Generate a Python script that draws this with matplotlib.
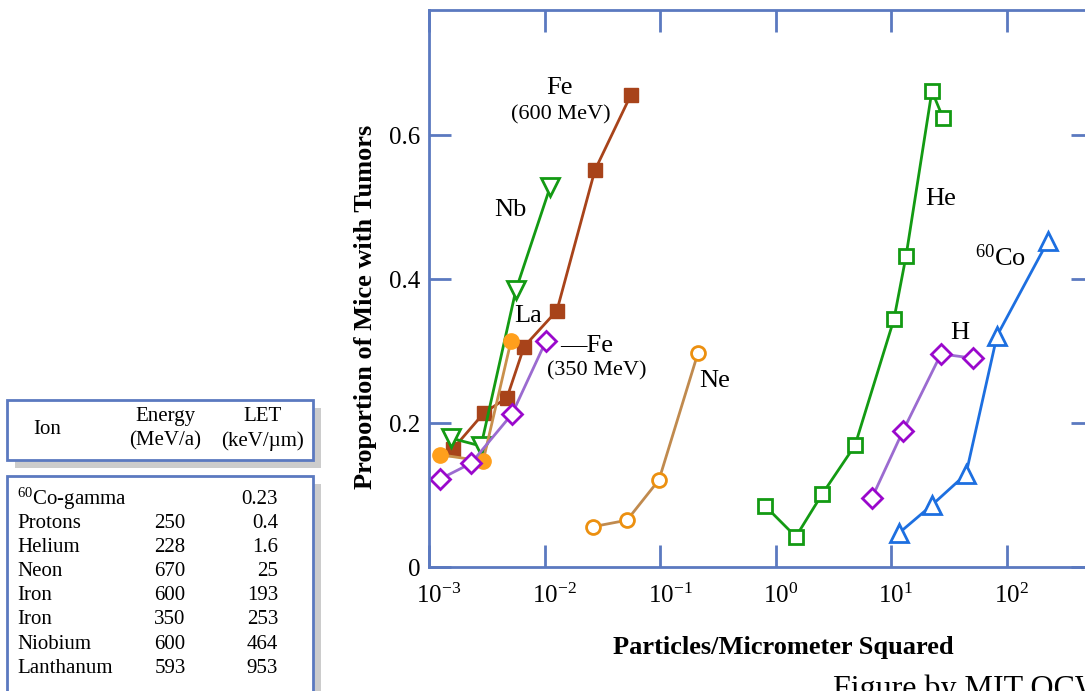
import matplotlib
matplotlib.use("Agg")
import matplotlib.pyplot as plt
import matplotlib.transforms as mtransforms
from matplotlib.patches import Rectangle

plt.rcParams["font.family"] = ["Liberation Serif", "DejaVu Serif"]
plt.rcParams["mathtext.fontset"] = "custom"
plt.rcParams["mathtext.rm"] = "Liberation Serif"
plt.rcParams["mathtext.it"] = "Liberation Serif:italic"
plt.rcParams["mathtext.bf"] = "Liberation Serif:bold"

# data
fe600_x = [1.61e-3, 2.99e-3, 4.73e-3, 6.65e-3, 1.28e-2, 2.73e-2, 5.61e-2]
fe600_y = [0.164, 0.214, 0.235, 0.306, 0.356, 0.551, 0.656]
nb_x = [1.55e-3, 2.82e-3, 5.66e-3, 1.12e-2]
nb_y = [0.179, 0.168, 0.385, 0.528]
la_x = [1.24e-3, 2.94e-3, 5.13e-3]
la_y = [0.156, 0.147, 0.314]
fe350_x = [1.24e-3, 2.31e-3, 5.24e-3, 1.03e-2]
fe350_y = [0.122, 0.144, 0.2125, 0.314]
ne_x = [2.63e-2, 5.18e-2, 9.8e-2, 0.213]
ne_y = [0.056, 0.065, 0.121, 0.297]
he_x = [0.811, 1.50, 2.53, 4.88, 10.6, 13.5, 22.6, 28.2]
he_y = [0.085, 0.042, 0.101, 0.169, 0.344, 0.432, 0.661, 0.624]
h_x = [6.84, 12.7, 27.1, 51.3]
h_y = [0.096, 0.189, 0.296, 0.290]
co_x = [11.7, 22.6, 44.6, 82.7, 229]
co_y = [0.047, 0.086, 0.129, 0.321, 0.453]

x_ticks = [1e-3, 1e-2, 1e-1, 1e0, 1e1, 1e2]
x_ticklabels = ["10$^{-3}$", "10$^{-2}$", "10$^{-1}$", "10$^{0}$", "10$^{1}$", "10$^{2}$"]
y_ticks = [0, 0.2, 0.4, 0.6]
y_ticklabels = ["0", "0.2", "0.4", "0.6"]

table_ions = ["$^{60}$Co-gamma", "Protons", "Helium", "Neon", "Iron", "Iron", "Niobium", "Lanthanum"]
table_energy = ["", "250", "228", "670", "600", "350", "600", "593"]
table_let = ["0.23", "0.4", "1.6", "25", "193", "253", "464", "953"]

W, H = 1085, 691
fig = plt.figure(figsize=(W / 100, H / 100), dpi=100)
ax = fig.add_axes([429 / W, 1 - 567 / H, (1093 - 429) / W, (567 - 10) / H])

spine_col = "#5b79c0"
green = "#139a13"

ax.plot(fe600_x, fe600_y, color="#a8431a", lw=2, marker="s", ms=10,
        mfc="#a8431a", mec="#a8431a")
ax.plot(nb_x, nb_y, color=green, lw=2, marker="v", ms=13,
        mfc="white", mec=green, mew=2)
ax.plot(la_x, la_y, color="#c9904c", lw=2, marker="o", ms=11,
        mfc="#ff9f1c", mec="#ff9f1c")
ax.plot(fe350_x, fe350_y, color="#9b6bd0", lw=2, marker="D", ms=10,
        mfc="white", mec="#9a08cc", mew=2)
ax.plot(ne_x, ne_y, color="#c08a4e", lw=2, marker="o", ms=10,
        mfc="white", mec="#ec9010", mew=2)
ax.plot(he_x, he_y, color=green, lw=2, marker="s", ms=10,
        mfc="white", mec=green, mew=2)
ax.plot(h_x, h_y, color="#9b6bd0", lw=2, marker="D", ms=10,
        mfc="white", mec="#9a08cc", mew=2)
ax.plot(co_x, co_y, color="#1d6fe0", lw=2, marker="^", ms=13,
        mfc="white", mec="#1d6fe0", mew=2)

ax.set_xscale("log")
ax.set_xlim(1e-3, 10 ** ((1093 - 429) / 115.5 - 3))
ax.set_ylim(0, (567 - 10) / 720)
ax.set_xticks(x_ticks)
ax.set_xticklabels(x_ticklabels)
ax.xaxis.set_minor_locator(matplotlib.ticker.NullLocator())
ax.set_yticks(y_ticks)
ax.set_yticklabels(y_ticklabels)
ax.tick_params(direction="in", length=16, width=2, color=spine_col,
               top=True, right=True, labelsize=18)
ax.tick_params(axis="x", pad=12)
ax.tick_params(axis="y", pad=6)
for s in ax.spines.values():
    s.set_color(spine_col)
    s.set_linewidth(2)

# centre the "10" of each label on its tick, exponent hangs to the right
shift = mtransforms.ScaledTranslation(-9 / 72, 0, fig.dpi_scale_trans)
for t in ax.get_xticklabels():
    t.set_ha("left")
    t.set_transform(t.get_transform() + shift)

ax.set_xlabel("Particles/Micrometer Squared", fontsize=19, fontweight="bold", labelpad=20)
ax.set_ylabel("Proportion of Mice with Tumors", fontsize=19, fontweight="bold", labelpad=9)
ax.xaxis.label.set_x((783 - 429) / 664)
ax.yaxis.label.set_y((567 - 307) / 557)


def lab(px, py, s, size=19, ha="center"):
    fig.text(px / W, 1 - py / H, s, fontsize=size, ha=ha, va="center")


lab(559, 88, "Fe")
lab(561, 115, "(600 MeV)", size=16)
lab(510, 210, "Nb")
lab(528, 316, "La")
lab(560, 346, "\u2014Fe", ha="left")
lab(597, 371, "(350 MeV)", size=16)
lab(715, 381, "Ne")
lab(941, 199, "He")
lab(1001, 258, "$^{60}$Co")
lab(960, 333, "H")


# table boxes with shadows
def box(x0, y0, x1, y1):
    fig.add_artist(Rectangle(((x0 + 8) / W, 1 - (y1 + 8) / H), (x1 - x0) / W, (y1 - y0) / H,
                             transform=fig.transFigure, facecolor="#cccccc", edgecolor="none", zorder=1))
    fig.add_artist(Rectangle((x0 / W, 1 - y1 / H), (x1 - x0) / W, (y1 - y0) / H,
                             transform=fig.transFigure, facecolor="white", edgecolor=spine_col,
                             linewidth=2, zorder=2))


box(7, 400, 313, 460)
box(7, 476, 313, 720)

tfs = 15
fig.text(47 / W, 1 - 429 / H, "Ion", fontsize=tfs, ha="center", va="center", zorder=3)
fig.text(165 / W, 1 - 417 / H, "Energy", fontsize=tfs, ha="center", va="center", zorder=3)
fig.text(165 / W, 1 - 441 / H, "(MeV/a)", fontsize=tfs, ha="center", va="center", zorder=3)
fig.text(262 / W, 1 - 417 / H, "LET", fontsize=tfs, ha="center", va="center", zorder=3)
fig.text(262 / W, 1 - 441 / H, "(keV/\u00b5m)", fontsize=tfs, ha="center", va="center", zorder=3)

for i in range(len(table_ions)):
    ry = 1 - (499 + i * 24.2) / H
    fig.text(17 / W, ry, table_ions[i], fontsize=tfs, ha="left", va="center", zorder=3)
    fig.text(170 / W, ry, table_energy[i], fontsize=tfs, ha="center", va="center", zorder=3)
    fig.text(278 / W, ry, table_let[i], fontsize=tfs, ha="right", va="center", zorder=3)

fig.text(833 / W, 1 - 674 / H, "Figure by MIT OCW.", fontsize=23, ha="left", va="top")

fig.savefig("out.png", dpi=100)
